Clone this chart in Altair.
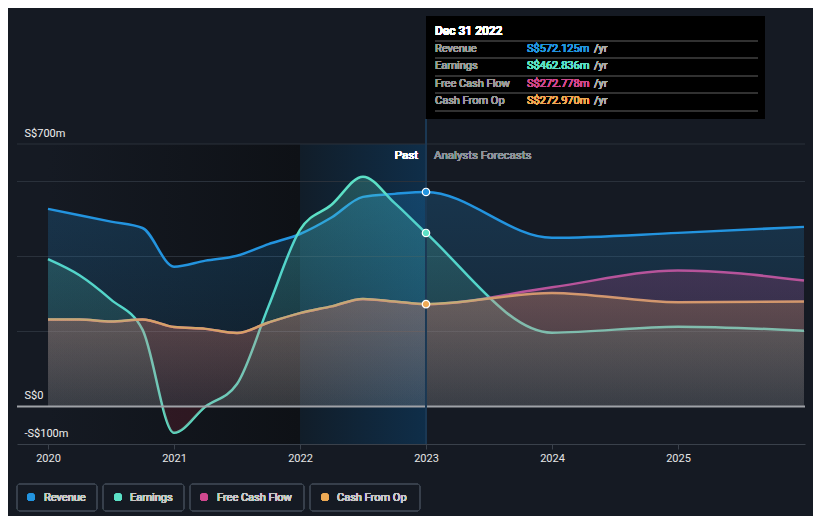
import altair as alt
import pandas as pd

# ---------------- data ----------------
quarters = [2020.0, 2020.25, 2020.5, 2020.75, 2021.0, 2021.25, 2021.5, 2021.75,
            2022.0, 2022.25, 2022.5, 2022.75, 2023.0]
forecast_years = [2024.0, 2025.0, 2026.0]

revenue_past = [527, 510, 493, 476, 373, 389, 402, 433, 460, 504, 559, 567, 572.125]
earnings_past = [393, 350, 285, 205, -70, 0, 60, 267, 471, 538, 613, 543, 462.836]
fcf_past = [232, 232, 227, 232, 212, 207, 196, 224, 249, 267, 287, 280, 272.778]
cfo_past = [232, 232, 227, 232, 212, 207, 196, 224, 249, 267, 287, 280, 272.970]

revenue_fc = [450, 463, 479]
earnings_fc = [197, 213, 202]
fcf_fc = [318, 363, 336]
cfo_fc = [303, 278, 280]

series_keys = ["revenue", "earnings", "fcf", "cfo"]
series_names = ["Revenue", "Earnings", "Free Cash Flow", "Cash From Op"]
series_colors = ["#2394df", "#5ce0c6", "#d0498f", "#eeaa55"]

year_ticks = [2020, 2021, 2022, 2023, 2024, 2025]
grid_values = [200, 400, 600, 700]
label_values = [-100, 0, 700]

df = pd.DataFrame({
    "t": quarters + forecast_years,
    "revenue": revenue_past + revenue_fc,
    "earnings": earnings_past + earnings_fc,
    "fcf": fcf_past + fcf_fc,
    "cfo": cfo_past + cfo_fc,
})
last = {"revenue": revenue_past[-1], "earnings": earnings_past[-1],
        "fcf": fcf_past[-1], "cfo": cfo_past[-1]}

FONT = "Roboto"
BG = "#151a23"

xscale = alt.Scale(domain=[2019.754, 2026.008], nice=False, zero=False)
yscale = alt.Scale(domain=[-100, 700], nice=False, zero=False)

xaxis = alt.Axis(values=year_ticks, format="d", grid=False, title=None,
                 domainColor="#3a414b", tickColor="#3a414b", tickSize=5,
                 labelColor="#e6e6e6", labelFont=FONT, labelFontSize=11,
                 labelPadding=3, zindex=1)
yaxis = alt.Axis(values=label_values, grid=False, title=None, domain=False,
                 ticks=False, labelAlign="left", labelBaseline="bottom",
                 labelPadding=-7, labelOffset=-6, labelColor="#f0f0f0",
                 labelFont=FONT, labelFontSize=11, zindex=1,
                 labelExpr="datum.value == 700 ? 'S$700m' : datum.value == 0 ? 'S$0' : '-S$100m'")


def X(field):
    return alt.X(field, type="quantitative", scale=xscale, axis=xaxis)


def Y(field):
    return alt.Y(field, type="quantitative", scale=yscale, axis=yaxis)


layers = []

# background: past (dark) and last-year highlight band
layers.append(alt.Chart(df).mark_rect(
    fill=alt.Gradient(gradient="linear", x1=0, x2=1, y1=0, y2=0,
                      stops=[alt.GradientStop(color="#151a23", offset=0),
                             alt.GradientStop(color="#0e1116", offset=1)])
).encode(x=alt.X(datum=2020, scale=xscale, axis=xaxis), x2=alt.X2(datum=2022),
         y=alt.Y(datum=700, scale=yscale, axis=yaxis), y2=alt.Y2(datum=-100)))

layers.append(alt.Chart(df).mark_rect(
    fill=alt.Gradient(gradient="linear", x1=0, x2=1, y1=0, y2=0,
                      stops=[alt.GradientStop(color="#111d29", offset=0),
                             alt.GradientStop(color="#0f2e49", offset=1)])
).encode(x=alt.X(datum=2022, scale=xscale), x2=alt.X2(datum=2023),
         y=alt.Y(datum=700, scale=yscale), y2=alt.Y2(datum=-100)))

# gridlines
grid_df = pd.DataFrame({"g": grid_values})
layers.append(alt.Chart(grid_df).mark_rule(color="#2a313b", strokeWidth=1).encode(
    y=alt.Y("g:Q", scale=yscale, axis=yaxis)))

# lines
for key, col in zip(series_keys, series_colors):
    layers.append(alt.Chart(df).mark_line(
        color=col, strokeWidth=2.5, interpolate="monotone").encode(x=X("t"), y=Y(key)))

# areas (drawn above lines, as in the reference)
emax = max(df["earnings"])
emin = min(df["earnings"])
zero_frac = emax / (emax - emin)


def rgba(hexcol, a):
    h = hexcol.lstrip("#")
    r, g, b = int(h[0:2], 16), int(h[2:4], 16), int(h[4:6], 16)
    return f"rgba({r},{g},{b},{a})"


for key, col in zip(series_keys, series_colors):
    if key == "earnings":
        stops = [alt.GradientStop(color=rgba(col, 0.24), offset=0),
                 alt.GradientStop(color=rgba(col, 0.08), offset=zero_frac - 0.002),
                 alt.GradientStop(color="rgba(150,35,55,0.22)", offset=zero_frac + 0.002),
                 alt.GradientStop(color="rgba(150,35,55,0.22)", offset=1)]
    else:
        stops = [alt.GradientStop(color=rgba(col, 0.22), offset=0),
                 alt.GradientStop(color=rgba(col, 0.08), offset=1)]
    layers.append(alt.Chart(df).mark_area(
        interpolate="monotone",
        fill=alt.Gradient(gradient="linear", x1=0, x2=0, y1=0, y2=1, stops=stops)
    ).encode(x=X("t"), y=Y(key), y2=alt.Y2(datum=0)))

# zero line
layers.append(alt.Chart(pd.DataFrame({"z": [0]})).mark_rule(
    color="#9fa2a7", strokeWidth=2).encode(y=alt.Y("z:Q", scale=yscale, axis=yaxis)))

# vertical marker at 2023
layers.append(alt.Chart(df).mark_rule(color="#1d3a54", strokeWidth=1).encode(
    x=alt.X(datum=2023, scale=xscale), y=alt.value(-25), y2=alt.value(300)))

# highlight points
pts = df[df["t"] == 2023.0]
for key, col in zip(series_keys, series_colors):
    if key == "fcf":
        continue
    layers.append(alt.Chart(pts).mark_point(
        shape="circle", filled=True, fill=col, stroke="white", strokeWidth=1.2,
        size=55, opacity=1).encode(x=X("t"), y=Y(key)))

# Past / Analysts Forecasts
layers.append(alt.Chart(df).mark_text(
    text="Past", align="right", baseline="middle", dx=-8, color="#ffffff",
    font=FONT, fontSize=11.5, fontWeight="normal").encode(
    x=alt.X(datum=2023, scale=xscale), y=alt.value(12)))
layers.append(alt.Chart(df).mark_text(
    text="Analysts Forecasts", align="left", baseline="middle", dx=8, color="#8d939b",
    font=FONT, fontSize=11.5, fontWeight="normal").encode(
    x=alt.X(datum=2023, scale=xscale), y=alt.value(12)))

# tooltip box
layers.append(alt.Chart(df).mark_rect(fill="#000000").encode(
    x=alt.value(409), x2=alt.value(748), y=alt.value(-128), y2=alt.value(-25)))
layers.append(alt.Chart(df).mark_text(
    text="Dec 31 2022", align="left", baseline="middle", color="#ffffff",
    font=FONT, fontSize=12, fontWeight=500).encode(x=alt.value(418), y=alt.value(-113)))
for i, yy in enumerate([-103, -86, -68, -51, -33]):
    layers.append(alt.Chart(df).mark_rule(color="#333333", strokeWidth=1).encode(
        x=alt.value(418), x2=alt.value(741), y=alt.value(yy)))
for i, (key, name, col) in enumerate(zip(series_keys, series_names, series_colors)):
    yy = -95 + i * 17.3
    layers.append(alt.Chart(df).mark_text(
        text=name, align="left", baseline="middle", color="#9a9a9a",
        font=FONT, fontSize=11).encode(x=alt.value(418), y=alt.value(yy)))
    layers.append(alt.Chart(df).mark_text(
        text=f"S${last[key]:.3f}m", align="left", baseline="middle", color=col,
        font=FONT, fontSize=11).encode(x=alt.value(510), y=alt.value(yy)))
    layers.append(alt.Chart(df).mark_text(
        text="/yr", align="left", baseline="middle", color="#aaaaaa",
        font=FONT, fontSize=11).encode(x=alt.value(577), y=alt.value(yy)))

# legend
box_x0 = [0, 86, 173, 293]
box_x1 = [80, 167, 287, 403]
dot_x = [14, 101, 187, 308]
txt_x = [27, 113, 200, 320]
for i, (name, col) in enumerate(zip(series_names, series_colors)):
    layers.append(alt.Chart(df).mark_rect(
        fillOpacity=0, stroke="#39414c", strokeWidth=1, cornerRadius=3).encode(
        x=alt.value(box_x0[i]), x2=alt.value(box_x1[i]), y=alt.value(340), y2=alt.value(367)))
    layers.append(alt.Chart(df).mark_point(
        shape="circle", filled=True, fill=col, size=60, opacity=1, strokeWidth=0).encode(
        x=alt.value(dot_x[i]), y=alt.value(353)))
    layers.append(alt.Chart(df).mark_text(
        text=name, align="left", baseline="middle", color="#c8c8c8",
        font=FONT, fontSize=11).encode(x=alt.value(txt_x[i]), y=alt.value(353.5)))

chart = alt.layer(*layers).properties(
    width=788, height=300,
    padding={"left": 9, "top": 136, "right": 8, "bottom": 72},
    autosize=alt.AutoSizeParams(type="none"),
    background=BG,
).configure_view(stroke=None)

chart.save("out.html", embed_options={"renderer": "svg", "actions": False})
